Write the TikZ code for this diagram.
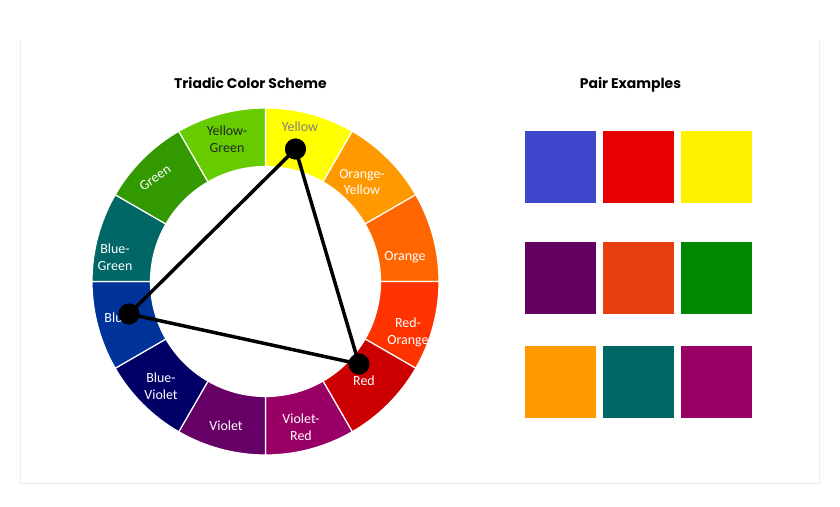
\documentclass[tikz,border=0pt]{standalone}
\usepackage{fontspec}
\setmainfont{Carlito}
\newfontfamily\titlefont{Poppins}[BoldFont={* Bold}]
\usepackage{xcolor}
\usepackage{tikz}
\usetikzlibrary{positioning}

% wheel colours
\definecolor{wYellow}{HTML}{FFFF00}
\definecolor{wOrangeYellow}{HTML}{FF9900}
\definecolor{wOrange}{HTML}{FF6600}
\definecolor{wRedOrange}{HTML}{FF3300}
\definecolor{wRed}{HTML}{CC0000}
\definecolor{wVioletRed}{HTML}{990066}
\definecolor{wViolet}{HTML}{660066}
\definecolor{wBlueViolet}{HTML}{000066}
\definecolor{wBlue}{HTML}{003399}
\definecolor{wBlueGreen}{HTML}{006666}
\definecolor{wGreen}{HTML}{339900}
\definecolor{wYellowGreen}{HTML}{66CC00}
% pair colours
\definecolor{pBlue}{HTML}{3F48CC}
\definecolor{pRed}{HTML}{E60000}
\definecolor{pYellow}{HTML}{FFF200}
\definecolor{pPurple}{HTML}{630060}
\definecolor{pRust}{HTML}{E64010}
\definecolor{pGreen}{HTML}{008800}
\definecolor{pOrange}{HTML}{FF9900}
\definecolor{pTeal}{HTML}{006666}
\definecolor{pMagenta}{HTML}{990066}

\tikzset{
  wlabel/.style={font=\fontsize{14}{17}\selectfont,align=center,text=white,inner sep=0pt},
  title/.style={font=\titlefont\bfseries\fontsize{14}{16}\selectfont},
  dot/.style={circle,fill=black,minimum size=21,inner sep=0pt},
  swatch/.style={minimum size=72,inner sep=0pt}
}

\begin{document}
\begin{tikzpicture}[x=1bp,y=-1bp]
  \useasboundingbox[fill=white] (0,0) rectangle (840,507);
  \draw[gray!15] (20,40) -- (20,483) -- (819,483) -- (819,40);

  % colour wheel
  \begin{scope}[shift={(265.5,281.5)},y=1bp]
    \foreach \a/\c in {60/wYellow,30/wOrangeYellow,0/wOrange,-30/wRedOrange,
        -60/wRed,-90/wVioletRed,-120/wViolet,-150/wBlueViolet,
        180/wBlue,150/wBlueGreen,120/wGreen,90/wYellowGreen}
      \fill[\c,draw=white,line width=1.2] (\a:115) -- (\a:173.5) arc (\a:\a+30:173.5)
        -- (\a+30:115) arc (\a+30:\a:115) -- cycle;
  \end{scope}

  \node[title] (tWheel) at (250.5,82.5) {Triadic Color Scheme};
  \node[title] (tPairs) at (630.5,85) {Pair Examples};

  \node[wlabel,text=black!50] (lY) at (300,127) {Yellow};
  \node[wlabel,text=black!85] (lYG) at (227,139) {Yellow-\\Green};
  \node[wlabel,rotate=35] (lG) at (155,178) {Green};
  \node[wlabel] (lBG) at (115,257) {Blue-\\Green};
  \node[wlabel] (lB) at (117,318) {Blue};
  \node[wlabel] (lBV) at (161,386) {Blue-\\Violet};
  \node[wlabel] (lV) at (226,426) {Violet};
  \node[wlabel] (lVR) at (301,427) {Violet-\\Red};
  \node[wlabel] (lR) at (364,381) {Red};
  \node[wlabel] (lRO) at (408,332) {Red-\\Orange};
  \node[wlabel] (lO) at (405,257) {Orange};
  \node[wlabel] (lOY) at (362,182) {Orange-\\Yellow};

  % triad
  \node[dot] (dY) at (295.5,149) {};
  \node[dot] (dB) at (129,314) {};
  \node[dot] (dR) at (359,364) {};
  \draw[line width=3.5] (dY.center) -- (dB.center) -- (dR.center) -- (dY.center);
  \foreach \d in {dY,dB,dR} \node[dot] at (\d) {};

  % pair examples
  \foreach \c [count=\i] in {pBlue,pRed,pYellow}
    \node[swatch,fill=\c] (sA\i) at ({482.5+78*\i},167) {};
  \foreach \c [count=\i] in {pPurple,pRust,pGreen}
    \node[swatch,fill=\c] (sB\i) at ({482.5+78*\i},278) {};
  \foreach \c [count=\i] in {pOrange,pTeal,pMagenta}
    \node[swatch,fill=\c] (sC\i) at ({482.5+78*\i},382) {};
\end{tikzpicture}
\end{document}
